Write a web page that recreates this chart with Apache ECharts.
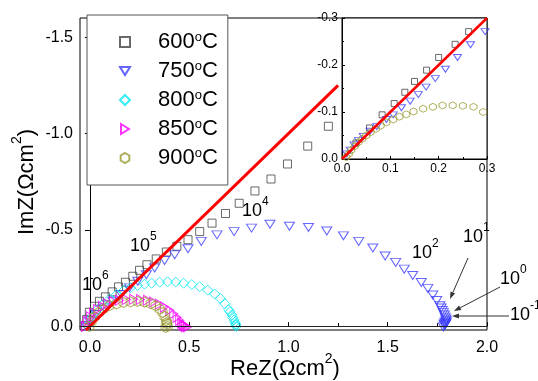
<!DOCTYPE html>
<html>
<head>
<meta charset="utf-8">
<script src="https://cdn.jsdelivr.net/npm/echarts@6/dist/echarts.min.js"></script>
<style>
  html, body {margin: 0; padding: 0; background: #fff;}
  #main {width: 538px; height: 381px;}
</style>
</head>
<body>
<div id="main"></div>
<script>
// legend names
const temps = ['600°C', '750°C', '800°C', '850°C', '900°C'];

// main plot, [ReZ, ImZ] in ohm cm2
const z600 = [[-0.023, -0.004], [-0.016, -0.035], [-0.003, -0.072], [0.023, -0.103], [0.048, -0.129],
  [0.078, -0.152], [0.112, -0.178], [0.144, -0.204], [0.179, -0.228], [0.216, -0.259], [0.25, -0.29],
  [0.287, -0.319], [0.334, -0.349], [0.385, -0.385], [0.438, -0.415], [0.494, -0.449], [0.553, -0.491],
  [0.615, -0.535], [0.683, -0.585], [0.752, -0.638], [0.831, -0.702], [0.912, -0.764], [0.995, -0.842],
  [1.097, -0.935], [1.201, -1.038]];
const z750 = [[-0.02, 0.0], [-0.003, -0.026], [0.031, -0.061], [0.073, -0.095], [0.115, -0.129],
  [0.158, -0.164], [0.199, -0.199], [0.241, -0.233], [0.284, -0.267], [0.326, -0.302], [0.376, -0.341],
  [0.427, -0.371], [0.494, -0.402], [0.561, -0.44], [0.64, -0.474], [0.726, -0.491], [0.814, -0.509],
  [0.907, -0.529], [1.005, -0.519], [1.101, -0.512], [1.193, -0.494], [1.277, -0.469], [1.354, -0.44],
  [1.425, -0.406], [1.487, -0.364], [1.54, -0.331], [1.583, -0.296], [1.626, -0.263], [1.669, -0.227],
  [1.702, -0.196], [1.727, -0.162], [1.747, -0.133], [1.763, -0.106], [1.769, -0.094], [1.775, -0.081],
  [1.78, -0.07], [1.785, -0.058], [1.789, -0.047], [1.793, -0.037], [1.794, -0.03], [1.795, -0.022],
  [1.793, -0.015], [1.788, -0.02], [1.783, -0.012], [1.79, -0.009], [1.786, -0.004], [1.78, 0.004]];
const z800 = [[-0.013, -0.004], [0.008, -0.045], [0.033, -0.081], [0.063, -0.112], [0.098, -0.141],
  [0.134, -0.164], [0.169, -0.185], [0.205, -0.2], [0.24, -0.211], [0.275, -0.218], [0.311, -0.223],
  [0.351, -0.228], [0.391, -0.23], [0.432, -0.229], [0.472, -0.223], [0.513, -0.216], [0.553, -0.205],
  [0.593, -0.187], [0.629, -0.167], [0.657, -0.143], [0.679, -0.117], [0.699, -0.086], [0.705, -0.075],
  [0.715, -0.058], [0.72, -0.045], [0.726, -0.032], [0.73, -0.02], [0.734, -0.011], [0.735, -0.005],
  [0.737, 0.002]];
const z850 = [[-0.023, 0.002], [-0.013, -0.024], [0.003, -0.048], [0.018, -0.067], [0.038, -0.086],
  [0.063, -0.102], [0.088, -0.116], [0.119, -0.127], [0.149, -0.135], [0.184, -0.139], [0.22, -0.14],
  [0.255, -0.139], [0.29, -0.135], [0.321, -0.126], [0.351, -0.114], [0.376, -0.099], [0.402, -0.082],
  [0.422, -0.065], [0.439, -0.046], [0.452, -0.03], [0.462, -0.016], [0.468, -0.008], [0.472, -0.004],
  [0.478, -0.002], [0.482, 0.004], [0.492, 0.004]];
const z900 = [[-0.003, 0.002], [0.008, -0.024], [0.023, -0.048], [0.043, -0.071], [0.068, -0.089],
  [0.098, -0.106], [0.134, -0.115], [0.169, -0.123], [0.205, -0.126], [0.24, -0.128], [0.275, -0.125],
  [0.306, -0.117], [0.331, -0.106], [0.351, -0.089], [0.366, -0.071], [0.376, -0.05], [0.384, -0.029],
  [0.387, -0.018], [0.389, -0.011], [0.391, 0.002], [0.381, 0.007]];
const fitLine = [[-0.02, 0.02], [1.25, -1.25]];

// inset, 0..0.3
const i600 = [[0.029, -0.034], [0.057, -0.066], [0.083, -0.094], [0.108, -0.118], [0.13, -0.142],
  [0.15, -0.165], [0.175, -0.189], [0.2, -0.216], [0.234, -0.244], [0.262, -0.271]];
const i750 = [[0.01, -0.011], [0.017, -0.019], [0.025, -0.03], [0.034, -0.039], [0.044, -0.048],
  [0.058, -0.059], [0.072, -0.069], [0.092, -0.084], [0.106, -0.094], [0.123, -0.109], [0.141, -0.123],
  [0.158, -0.137], [0.174, -0.153], [0.193, -0.171], [0.214, -0.191], [0.239, -0.216], [0.266, -0.243],
  [0.296, -0.271]];
const i900 = [[0.009, -0.004], [0.014, -0.011], [0.019, -0.019], [0.026, -0.027], [0.034, -0.036],
  [0.042, -0.043], [0.05, -0.05], [0.059, -0.057], [0.07, -0.064], [0.08, -0.071], [0.092, -0.078],
  [0.106, -0.084], [0.119, -0.09], [0.133, -0.095], [0.148, -0.101], [0.168, -0.107], [0.188, -0.111],
  [0.208, -0.114], [0.229, -0.114], [0.25, -0.113], [0.272, -0.111], [0.292, -0.1]];
const insetLine = [[0, 0], [0.3, -0.3]];

// tick values
const xTicks = [0, 0.5, 1, 1.5, 2];
const xMinor = [0.25, 0.75, 1.25, 1.75];
const yTicks = [-1.5, -1, -0.5, 0];
const yMinor = [-1.25, -0.75, -0.25];

const font = 'Liberation Sans, Arial, sans-serif';
const hexagon = 'path://M0,-10L8.66,-5L8.66,5L0,10L-8.66,5L-8.66,-5Z';
const triDown = 'path://M0,0L10,0L5,8Z';
const triRight = 'path://M0,0L8,5L0,10Z';
const looks = [
  {symbol: 'rect', size: 8, color: '#444'},
  {symbol: triDown, size: [10, 8], color: '#3d3dff'},
  {symbol: 'diamond', size: [10, 10], color: '#00e8f0'},
  {symbol: triRight, size: [8, 10], color: '#ff00ff'},
  {symbol: hexagon, size: [9, 10], color: '#9a9a30'},
];

function scatter(name, data, i, xi, yi, z, size) {
  const s = looks[i];
  return {
    name: name, type: 'scatter', data: data,
    xAxisIndex: xi, yAxisIndex: yi, z: z,
    symbol: s.symbol, symbolSize: size || s.size,
    itemStyle: {color: 'rgba(0,0,0,0)', borderColor: s.color, borderWidth: 1},
    emphasis: {disabled: true},
  };
}

function sup(base, s, tail, big, small) {
  return {
    text: '{b|' + base + '}{s|' + s + '}{b|' + tail + '}',
    rich: {
      b: {fontSize: big, lineHeight: big + 6, verticalAlign: 'bottom', fontFamily: font, fill: '#000'},
      s: {fontSize: small, verticalAlign: 'top', fontFamily: font, fill: '#000'},
    },
  };
}

function label(x, y, base, s) {
  const t = sup(base, s, '', 18, 12);
  return {type: 'text', z: 10, x: x, y: y, style: Object.assign(t, {align: 'left', verticalAlign: 'top'})};
}

function arrow(x1, y1, x2, y2) {
  const a = Math.atan2(y2 - y1, x2 - x1), L = 7, W = 2.5;
  const bx = x2 - L * Math.cos(a), by = y2 - L * Math.sin(a);
  return [
    {type: 'line', z: 10, shape: {x1: x1, y1: y1, x2: bx, y2: by}, style: {stroke: '#333', lineWidth: 1}},
    {type: 'polygon', z: 10, shape: {points: [[x2, y2], [bx + W * Math.sin(a), by - W * Math.cos(a)],
      [bx - W * Math.sin(a), by + W * Math.cos(a)]]}, style: {fill: '#333'}},
  ];
}

const chart = echarts.init(document.getElementById('main'));

const fmt = v => v.toFixed(1);

chart.setOption({
  animation: false,
  textStyle: {fontFamily: font, color: '#000'},
  grid: [
    {left: 80, right: 51, top: 18, bottom: 51, show: true, borderColor: '#000', borderWidth: 1},
    {left: 342, width: 145, top: 18, height: 141, show: true, backgroundColor: '#fff',
      borderColor: '#000', borderWidth: 1, z: 3},
  ],
  xAxis: [
    {gridIndex: 0, type: 'value', min: -0.05, max: 2, splitLine: {show: false},
      axisLine: {lineStyle: {color: '#000'}},
      axisTick: {inside: true, length: 4, customValues: xTicks, lineStyle: {color: '#000'}},
      axisLabel: {customValues: xTicks, formatter: fmt, fontSize: 16, color: '#000', margin: 10}},
    {gridIndex: 0, type: 'value', position: 'bottom', min: -0.05, max: 2, splitLine: {show: false},
      axisLine: {show: false}, axisLabel: {show: false},
      axisTick: {inside: true, length: 3, customValues: xMinor, lineStyle: {color: '#000'}}},
    {gridIndex: 1, type: 'value', min: 0, max: 0.3, interval: 0.1, z: 4, splitLine: {show: false},
      axisLine: {lineStyle: {color: '#000'}},
      axisTick: {inside: true, length: 3, lineStyle: {color: '#000'}},
      minorTick: {show: true, splitNumber: 2, length: 2, lineStyle: {color: '#000'}},
      axisLabel: {formatter: fmt, fontSize: 12, color: '#000', margin: 4}},
  ],
  yAxis: [
    {gridIndex: 0, type: 'value', inverse: true, min: -1.6, max: 0.02, splitLine: {show: false},
      axisLine: {lineStyle: {color: '#000'}},
      axisTick: {inside: false, length: 5, customValues: yTicks, lineStyle: {color: '#000'}},
      axisLabel: {customValues: yTicks, formatter: fmt, fontSize: 16, color: '#000', margin: 7}},
    {gridIndex: 0, type: 'value', position: 'left', inverse: true, min: -1.6, max: 0.02,
      splitLine: {show: false}, axisLine: {show: false}, axisLabel: {show: false},
      axisTick: {inside: true, length: 3, customValues: yMinor, lineStyle: {color: '#000'}}},
    {gridIndex: 1, type: 'value', inverse: true, min: -0.3, max: 0, interval: 0.1, z: 4,
      splitLine: {show: false},
      axisLine: {lineStyle: {color: '#000'}},
      axisTick: {inside: true, length: 3, lineStyle: {color: '#000'}},
      minorTick: {show: true, splitNumber: 2, length: 2, lineStyle: {color: '#000'}},
      axisLabel: {formatter: fmt, fontSize: 12, color: '#000', margin: 4}},
  ],
  legend: {
    data: temps, orient: 'vertical', left: 87, top: 15,
    padding: [16, 10, 16, 32], itemGap: 7, itemWidth: 10, itemHeight: 10,
    borderColor: '#555', borderWidth: 1, backgroundColor: '#fff',
    selectedMode: false,
    formatter: name => name.replace('°', '{o|o}'),
    textStyle: {fontSize: 22, lineHeight: 22, color: '#000', fontFamily: font, padding: [0, 0, 0, 23],
      rich: {o: {fontSize: 13, verticalAlign: 'top', color: '#000', fontFamily: font}}},
  },
  series: [
    scatter(temps[0], z600, 0, 0, 0, 2),
    scatter(temps[1], z750, 1, 0, 0, 2),
    scatter(temps[2], z800, 2, 0, 0, 2),
    scatter(temps[3], z850, 3, 0, 0, 2),
    scatter(temps[4], z900, 4, 0, 0, 2),
    {type: 'line', data: fitLine, xAxisIndex: 0, yAxisIndex: 0, z: 3, symbol: 'none',
      lineStyle: {color: '#ff0000', width: 3}, silent: true,
      markLine: {silent: true, symbol: 'none', label: {show: false},
        lineStyle: {color: '#222', width: 1, type: 'solid'}, data: [{yAxis: 0}]}},
    scatter('i600', i600, 0, 2, 2, 5, 6),
    scatter('i750', i750, 1, 2, 2, 5, [8, 6]),
    scatter('i900', i900, 4, 2, 2, 5, [7, 7]),
    {type: 'line', data: insetLine, xAxisIndex: 2, yAxisIndex: 2, z: 6, symbol: 'none',
      lineStyle: {color: '#ff0000', width: 2.5}, silent: true},
  ],
  graphic: [
    {type: 'text', z: 10, x: 285, y: 366, style: Object.assign(sup('ReZ(Ωcm', '2', ')', 22, 14),
      {align: 'center', verticalAlign: 'middle'})},
    {type: 'text', z: 10, x: 24, y: 182, rotation: Math.PI / 2, style: Object.assign(sup('ImZ(Ωcm', '2', ')', 22, 14),
      {align: 'center', verticalAlign: 'middle'})},
    label(82, 270, '10', '6'),
    label(130, 231, '10', '5'),
    label(242, 196, '10', '4'),
    label(412, 238, '10', '2'),
    label(463, 222, '10', '1'),
    label(500, 264, '10', '0'),
    label(510, 300, '10', '-1'),
  ].concat(arrow(468, 258, 450, 299), arrow(500, 287, 454, 311), arrow(509, 316, 452, 316)),
});
</script>
</body>
</html>
